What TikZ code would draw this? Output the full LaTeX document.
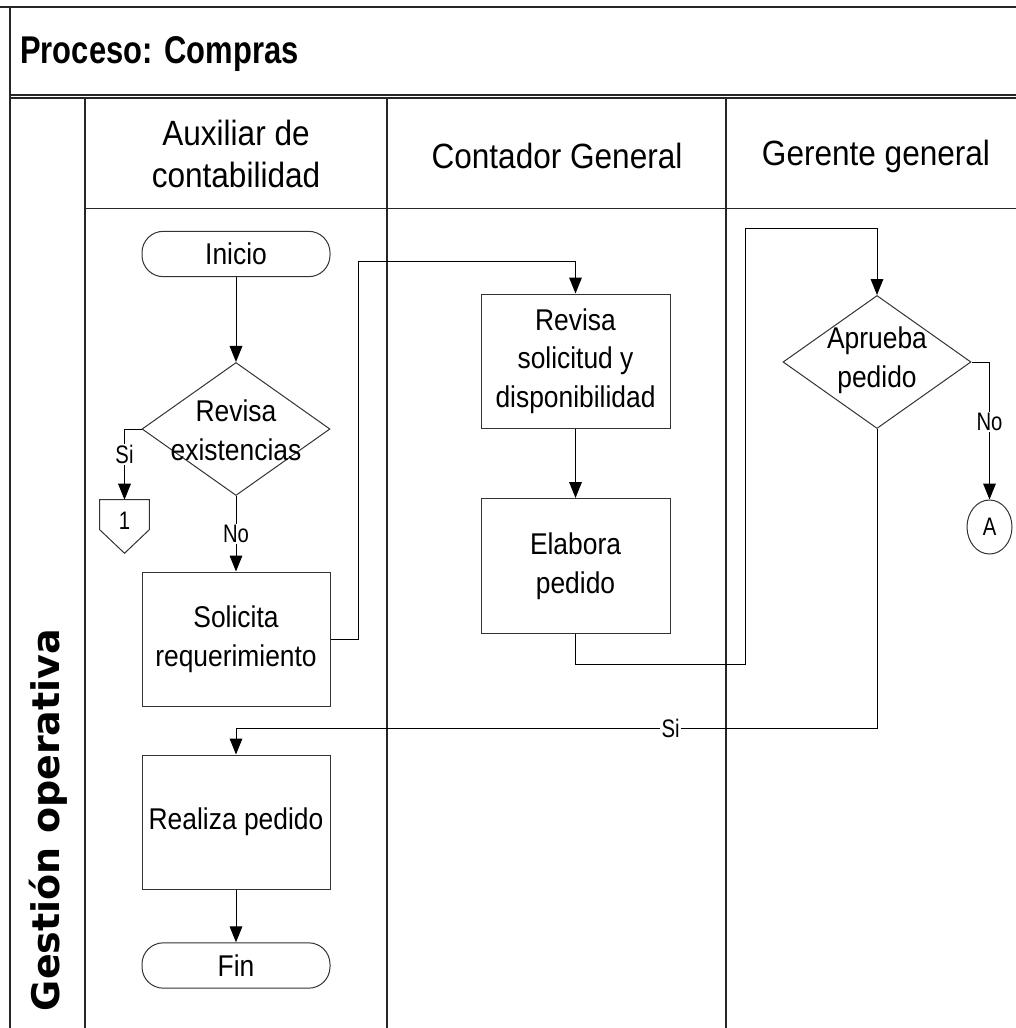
\documentclass[tikz,border=0pt]{standalone}
\usepackage{fontspec}
\setmainfont[FakeStretch=0.88]{Liberation Sans}
\newfontfamily\titlefont[FakeStretch=0.8]{Liberation Sans}
\newfontfamily\hdrfont[FakeStretch=0.9]{Liberation Sans}
\newfontfamily\labfont[FakeStretch=0.8]{Liberation Sans}
\newfontfamily\gestfont{DejaVu Sans}
\usetikzlibrary{shapes.geometric,arrows.meta,calc}
\begin{document}
\begin{tikzpicture}[x=0.75pt,y=-0.75pt,
  frame/.style={line width=1.1pt,draw=black!85},
  conn/.style={line width=0.75pt,draw=black},
  arr/.style={conn,-{Triangle[length=12pt,width=9.5pt]}},
  boxline/.style={line width=0.75pt,draw=black!80},
  nfont/.style={font=\fontsize{22.5}{29}\selectfont},
  pbox/.style={rectangle,boxline,inner sep=0pt,align=center,nfont},
  term/.style={rectangle,rounded corners=16pt,boxline,inner sep=0pt,align=center,nfont,minimum width=141pt,minimum height=34pt},
  dia/.style={diamond,boxline,inner sep=0pt,minimum width=141pt,minimum height=99.75pt},
  txt/.style={inner sep=0pt,align=center,nfont},
  lab/.style={fill=white,inner sep=1pt,font=\labfont\fontsize{19}{20}\selectfont},
  hdr/.style={inner sep=0pt,align=center,font=\hdrfont\fontsize{26.3}{31.5}\selectfont}
]
\useasboundingbox (0,0) rectangle (1016,1028);
\fill[white] (0,0) rectangle (1016,1028);

% frame and lanes
\draw[line width=1.5pt,draw=black!85] (0,7) -- (1016,7);
\draw[frame] (10,7) -- (10,1028);
\draw[line width=0.9pt,draw=black!85] (10,95) -- (1016,95);
\draw[line width=0.9pt,draw=black!85] (10,98) -- (1016,98);
\draw[frame] (85,98) -- (85,1028);
\draw[frame] (387,98) -- (387,1028);
\draw[frame] (726,98) -- (726,1028);
\draw[frame] (85,208.5) -- (1016,208.5);

\node[anchor=west,inner sep=0pt,font=\titlefont\fontsize{29}{32}\bfseries] (title) at (20,54) {Proceso:\hspace{9pt}Compras};

\node[hdr] (h1) at (236,154) {Auxiliar de\\contabilidad};
\node[hdr] (h2) at (557,156) {Contador General};
\node[hdr] (h3) at (876,156) {Gerente general};

\node[rotate=90,inner sep=0pt,font=\gestfont\fontsize{28.5}{30}\bfseries] (pool) at (48,820) {Gestión operativa};

% nodes
\node[term] (ini) at (236,254) {Inicio};
\node[dia] (d1) at (236,429) {};
\node[txt] (d1t) at (236,430) {Revisa\\existencias};
\node[inner sep=0pt,minimum width=36.75pt,minimum height=39.75pt] (off1) at (124.5,526.5) {};
\draw[boxline] (off1.north west) -- (off1.north east) -- ($(off1.north east)+(0,30)$) -- (off1.south) -- ($(off1.north west)+(0,30)$) -- cycle;
\node[inner sep=0pt,font=\labfont\fontsize{19}{20}\selectfont] (off1t) at (124.5,521) {1};
\node[pbox,minimum width=141pt,minimum height=100.5pt] (sol) at (236,639) {Solicita\\requerimiento};
\node[pbox,minimum width=141.75pt,minimum height=100.5pt] (rev) at (575.5,361) {Revisa\\solicitud y\\disponibilidad};
\node[pbox,minimum width=141.75pt,minimum height=101.25pt] (ela) at (575.5,566) {Elabora\\pedido};
\node[dia] (d2) at (877,362) {};
\node[txt] (d2t) at (877,360) {Aprueba\\pedido};
\node[ellipse,boxline,inner sep=0pt,minimum width=33.75pt,minimum height=40.5pt,font=\labfont\fontsize{19}{20}\selectfont] (ca) at (989.5,527) {A};
\node[pbox,minimum width=141pt,minimum height=100.5pt] (real) at (236,822) {Realiza pedido};
\node[term] (fin) at (236,965.5) {Fin};

\coordinate (j1) at (358,261);
\coordinate (j2) at (745,664);
\coordinate (j3) at (745,228);
\coordinate (j4) at (236,728);

% connectors
\draw[arr] (ini) -- (d1);
\draw[arr] (d1.west) -| node[lab,pos=0.68]{Si} (off1.north);
\draw[arr] (d1) -- node[lab]{No} (sol);
\draw[arr] (sol.east) -| (j1) -| (rev.north);
\draw[arr] (rev) -- (ela);
\draw[arr] (ela.south) |- (j2) -- (j3) -| (d2.north);
\draw[arr] (d2.east) -| node[lab,pos=0.717]{No} (ca.north);
\draw[arr] (d2.south) |- node[lab,pos=0.661]{Si} (j4) -- (real.north);
\draw[arr] (real) -- (fin);
\end{tikzpicture}
\end{document}
